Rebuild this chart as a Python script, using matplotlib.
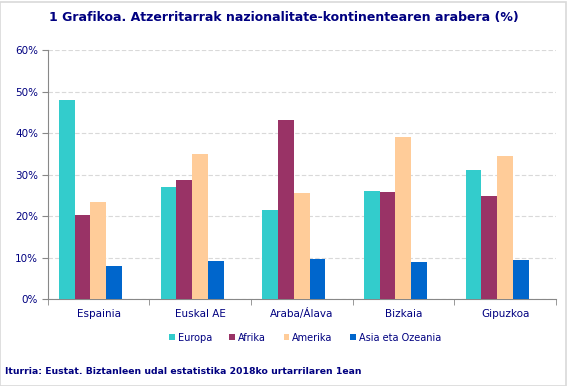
import matplotlib

matplotlib.use("Agg")
import matplotlib.pyplot as plt
import numpy as np
from matplotlib.patches import Rectangle
from matplotlib.ticker import FixedLocator, NullFormatter

REGIONS = ["Espainia", "Euskal AE", "Araba/Álava", "Bizkaia", "Gipuzkoa"]
SERIES = ["Europa", "Afrika", "Amerika", "Asia eta Ozeania"]
EUROPA = [48.0, 27.0, 21.6, 26.1, 31.2]
AFRIKA = [20.3, 28.7, 43.1, 25.8, 25.0]
AMERIKA = [23.4, 35.1, 25.6, 39.2, 34.5]
ASIA = [8.1, 9.2, 9.7, 8.9, 9.4]
COLORS = ["#33CCCC", "#993366", "#FFCC99", "#0066CC"]
NAVY = "#000080"

fig = plt.figure(figsize=(5.68, 3.86), dpi=100)
ax = fig.add_axes([0.084, 0.2246, 0.895, 0.645])

x = np.arange(len(REGIONS))
w = 0.155
shift = -0.08  # groups sit a little left of the category centre
for k, (vals, col, lab) in enumerate(zip([EUROPA, AFRIKA, AMERIKA, ASIA], COLORS, SERIES)):
    ax.bar(x + shift + (k - 1.5) * w, vals, w, color=col, label=lab, zorder=3)

ax.set_xlim(-0.5, len(REGIONS) - 0.5)
ax.set_ylim(0, 60)
ax.set_yticks(range(0, 61, 10))
ax.set_yticklabels([f"{v}%" for v in range(0, 61, 10)], fontsize=7.5, color=NAVY)
ax.set_xticks(x)
ax.set_xticklabels(REGIONS, fontsize=7.5, color=NAVY)
for lbl in ax.get_xticklabels():
    lbl.set_va("baseline")  # keep the accent in Álava from pushing its label down
ax.tick_params(axis="x", length=0, pad=13)
ax.xaxis.set_minor_locator(FixedLocator(np.arange(-0.5, len(REGIONS), 1)))
ax.xaxis.set_minor_formatter(NullFormatter())
ax.tick_params(axis="x", which="minor", length=4, color="#888888", direction="out")
ax.tick_params(axis="y", length=4, color="#888888", pad=3)
ax.grid(axis="y", color="#D9D9D9", linestyle=(0, (4, 2)), linewidth=0.8, zorder=0)
for s in ["top", "right"]:
    ax.spines[s].set_visible(False)
for s in ["left", "bottom"]:
    ax.spines[s].set_color("#888888")

fig.text(0.5, 0.955, "1 Grafikoa. Atzerritarrak nazionalitate-kontinentearen arabera (%)",
         ha="center", va="center", fontsize=9, fontweight="bold", color=NAVY)
fig.legend(loc="center", bbox_to_anchor=(0.537, 0.125), ncol=4, frameon=False,
           fontsize=7, handlelength=0.6, handleheight=0.6, handletextpad=0.3,
           columnspacing=1.8, labelcolor=NAVY)
fig.text(0.009, 0.038, "Iturria: Eustat. Biztanleen udal estatistika 2018ko urtarrilaren 1ean",
         ha="left", va="center", fontsize=6.7, fontweight="bold", color=NAVY)
fig.patches.append(Rectangle((0, 0), 0.997, 0.996, transform=fig.transFigure,
                             fill=False, edgecolor="#D9D9D9", linewidth=1.2))

fig.savefig("out.png", dpi=100)
